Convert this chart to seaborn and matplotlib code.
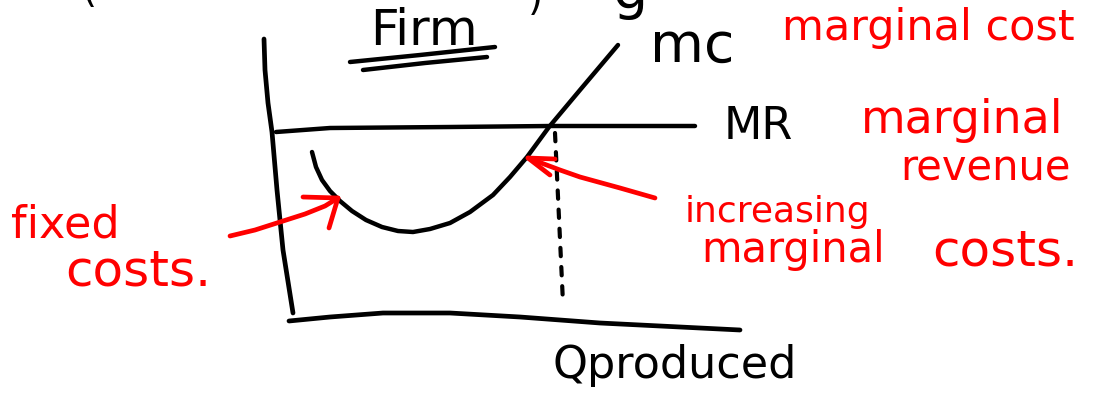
import matplotlib
matplotlib.use("Agg")
import matplotlib.pyplot as plt
import seaborn as sns
import pandas as pd

sns.set_theme(style="white")
plt.rcParams['font.family'] = ['DejaVu Sans']

# ---- sketch data (canvas units, y grows downward) ----
y_axis_x = [264, 265, 268, 272, 277, 283, 293]
y_axis_y = [39, 70, 103, 132, 190, 250, 313]

x_axis_x = [289, 330, 383, 450, 520, 600, 740]
x_axis_y = [321, 317, 313, 313, 317, 323, 330]

mr_x = [276, 330, 450, 550, 695]
mr_y = [132, 128, 127, 126, 126]

mc_x = [312, 316, 322, 330, 340, 352, 366, 382, 398, 413, 430, 450, 470, 493, 510, 527, 549, 580, 618]
mc_y = [152, 167, 180, 191, 201, 211, 220, 227, 231, 232, 229, 223, 212, 195, 177, 157, 127, 90, 45]

q_line_x = [555, 563]
q_line_y = [133, 303]

underline1_x = [350, 420, 495]
underline1_y = [62, 55, 47]
underline2_x = [363, 425, 487]
underline2_y = [70, 63, 57]

fixed_arrow_x = [230, 255, 280, 305, 325, 338]
fixed_arrow_y = [236, 230, 222, 214, 206, 198]
fixed_head_x = [303, 338, 329]
fixed_head_y = [197, 198, 228]

incr_arrow_x = [655, 620, 580, 560, 528]
incr_arrow_y = [198, 188, 177, 170, 158]
incr_head_x = [555, 528, 550]
incr_head_y = [159, 158, 175]

# labels
labels = ["Firm", "mc", "MR", "marginal cost", "marginal", "revenue",
          "fixed", "costs.", "increasing", "marginal", "costs.", "Qproduced",
          "(", ")", "g"]
label_color = ["black", "black", "black", "red", "red", "red",
               "red", "red", "red", "red", "red", "black",
               "black", "black", "black"]

# layout of the labels (box left/right, baseline, max font size)
label_x0 = [357, 647, 722, 775, 855, 897, 10, 63, 672, 698, 927, 552, 82, 528, 607]
label_x1 = [490, 737, 795, 1082, 1070, 1075, 120, 213, 882, 888, 1083, 797, 97, 543, 655]
label_base = [45, 62, 139, 40, 133, 179, 237, 286, 222, 262, 266, 378, 2, 10, 8]
label_size = [36, 40, 32, 31, 33, 30, 32, 36, 26, 30, 36, 32, 28, 28, 40]

W, H = 1093, 395
fig = plt.figure(figsize=(W / 100, H / 100), dpi=100)
ax = fig.add_axes([0, 0, 1, 1])
ax.set_xlim(0, W)
ax.set_ylim(H, 0)
ax.axis("off")


def stroke(xs, ys, color="black", lw=3.2, **kw):
    df = pd.DataFrame({"x": xs, "y": ys})
    sns.lineplot(data=df, x="x", y="y", sort=False, estimator=None, ax=ax,
                 color=color, linewidth=lw, legend=False,
                 solid_capstyle="round", solid_joinstyle="round", **kw)


stroke(y_axis_x, y_axis_y, lw=3.4)
stroke(x_axis_x, x_axis_y, lw=3.4)
stroke(mr_x, mr_y, lw=3.2)
stroke(mc_x, mc_y, lw=3.2)
stroke(underline1_x, underline1_y, lw=3.2)
stroke(underline2_x, underline2_y, lw=3.2)
df_q = pd.DataFrame({"x": q_line_x, "y": q_line_y})
sns.lineplot(data=df_q, x="x", y="y", sort=False, estimator=None, ax=ax,
             color="black", linewidth=3.0, legend=False,
             linestyle=(0, (2.0, 2.6)), dash_capstyle="round")
stroke(fixed_arrow_x, fixed_arrow_y, color="red", lw=3.4)
stroke(fixed_head_x, fixed_head_y, color="red", lw=3.4)
stroke(incr_arrow_x, incr_arrow_y, color="red", lw=3.4)
stroke(incr_head_x, incr_head_y, color="red", lw=3.4)

ax.set_xlabel("")
ax.set_ylabel("")

renderer = fig.canvas.get_renderer()
for txt, x0, x1, base, col, fs in zip(labels, label_x0, label_x1, label_base,
                                      label_color, label_size):
    t = ax.text((x0 + x1) / 2, base, txt, color=col, fontsize=fs,
                ha="center", va="baseline", clip_on=False)
    bb = t.get_window_extent(renderer=renderer)
    target = (x1 - x0)
    if bb.width > target:
        t.set_fontsize(fs * target / bb.width)

fig.savefig("out.png", dpi=100)
